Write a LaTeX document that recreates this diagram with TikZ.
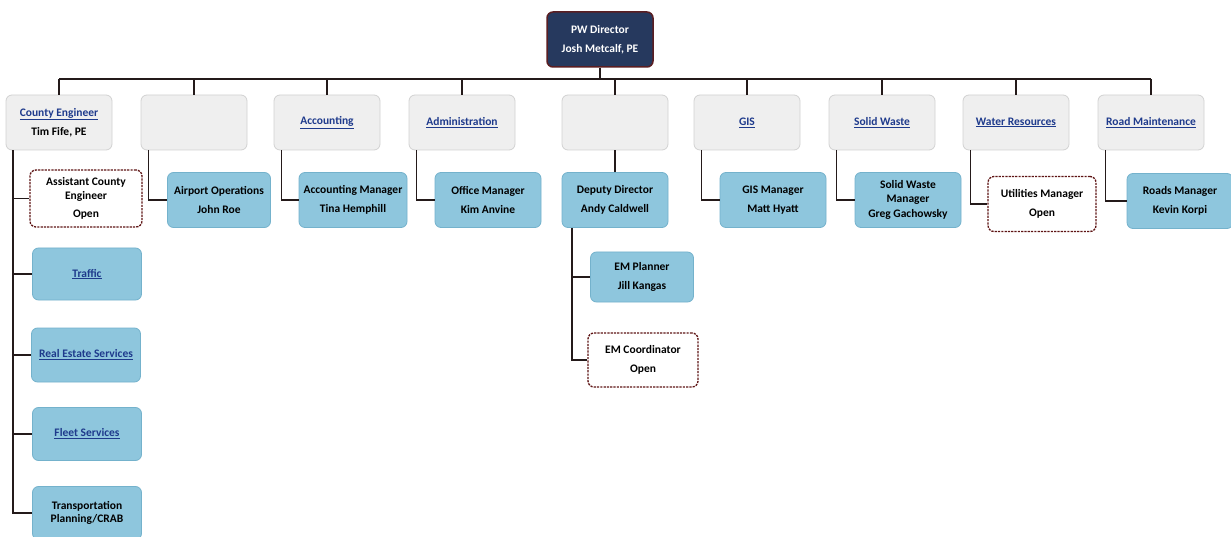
\documentclass[tikz,border=0pt]{standalone}
\usepackage{fontspec}
\setmainfont{Carlito}
\definecolor{navy}{HTML}{26395E}
\definecolor{dirborder}{HTML}{5A1E22}
\definecolor{hdgray}{HTML}{EFEFEF}
\definecolor{hdborder}{HTML}{D2D2D2}
\definecolor{boxblue}{HTML}{8EC6DD}
\definecolor{boxblueb}{HTML}{74B2CC}
\definecolor{openred}{HTML}{5E1414}
\definecolor{linecol}{HTML}{241A1A}
\definecolor{linkblue}{HTML}{1E3A8C}
\newcommand\lnk[1]{\textcolor{linkblue}{\underline{#1}}}
\begin{document}
\begin{tikzpicture}[x=1pt,y=-1pt,
  base/.style={rounded corners=6pt, align=center,
    font=\bfseries\fontsize{11.5}{13.5}\selectfont, inner sep=1pt,
    minimum width=106pt, minimum height=55pt},
  dirbox/.style={base, fill=navy, draw=dirborder, line width=1.5pt, text=white},
  hdbox/.style={base, fill=hdgray, draw=hdborder, line width=0.8pt},
  bluebox/.style={base, fill=boxblue, draw=boxblueb, line width=0.8pt},
  openbox/.style={base, fill=white, draw=openred, line width=1.3pt,
    dash pattern=on 2.2pt off 1.1pt},
  conn/.style={line width=1.6pt, draw=linecol}]
\useasboundingbox (0,0) rectangle (1231,537);
\fill[white] (0,0) rectangle (1231,537);

% director
\node[dirbox] (dir) at (600,39.5) {PW Director\\[6pt]Josh Metcalf, PE};

% top row
\node[hdbox] (ce)  at (59,122.5)  {\lnk{County Engineer}\\[6pt]Tim Fife, PE};
\node[hdbox] (ap)  at (194,122.5) {};
\node[hdbox] (acc) at (327,122.5) {\lnk{Accounting}};
\node[hdbox] (adm) at (462,122.5) {\lnk{Administration}};
\node[hdbox] (em)  at (615,122.5) {};
\node[hdbox] (gis) at (747,122.5) {\lnk{GIS}};
\node[hdbox] (sw)  at (882,122.5) {\lnk{Solid Waste}};
\node[hdbox] (wr)  at (1016,122.5) {\lnk{Water Resources}};
\node[hdbox] (rm)  at (1151,122.5) {\lnk{Road Maintenance}};

% bus
\coordinate (bus) at (0,79);
\draw[conn] (dir.south) -- (dir.south |- bus);
\draw[conn] (ce.north |- bus) -- (rm.north |- bus);
\foreach \n in {ce,ap,acc,adm,em,gis,sw,wr,rm}
  \draw[conn] (\n.north |- bus) -- (\n.north);

% second row
\node[openbox, minimum width=112pt, minimum height=57pt] (ace) at (86,198.5)
  {Assistant County\\Engineer\\[5pt]Open};
\node[bluebox, minimum width=103pt] (apo) at (219,200) {Airport Operations\\[6pt]John Roe};
\node[bluebox, minimum width=108pt] (accm) at (353,200) {Accounting Manager\\[6pt]Tina Hemphill};
\node[bluebox] (om) at (488,200) {Office Manager\\[6pt]Kim Anvine};
\node[bluebox] (dd) at (615,200) {Deputy Director\\[6pt]Andy Caldwell};
\node[bluebox] (gism) at (773,200) {GIS Manager\\[6pt]Matt Hyatt};
\node[bluebox] (swm) at (908,200) {Solid Waste\\Manager\\[2pt]Greg Gachowsky};
\node[openbox, minimum width=108pt] (um) at (1042,204) {Utilities Manager\\[6pt]Open};
\node[bluebox] (rmg) at (1180,201) {Roads Manager\\[6pt]Kevin Korpi};

\draw[conn] ([xshift=8pt]ap.south west) |- (apo.west);
\draw[conn] ([xshift=8pt]acc.south west) |- (accm.west);
\draw[conn] ([xshift=8pt]adm.south west) |- (om.west);
\draw[conn] (em.south) -- (dd.north);
\draw[conn] ([xshift=8pt]gis.south west) |- (gism.west);
\draw[conn] ([xshift=8pt]sw.south west) |- (swm.west);
\draw[conn] ([xshift=8pt]wr.south west) |- (um.west);
\draw[conn] ([xshift=8pt]rm.south west) |- (rmg.west);

% county engineer column
\node[bluebox, minimum width=109pt, minimum height=52pt] (tr) at (87,274) {\lnk{Traffic}};
\node[bluebox, minimum width=109pt, minimum height=54pt] (re) at (86,355) {\lnk{Real Estate Services}};
\node[bluebox, minimum width=109pt, minimum height=53pt] (fs) at (87,434) {\lnk{Fleet Services}};
\node[bluebox, minimum width=109pt, minimum height=53pt] (tp) at (87,513) {Transportation\\Planning/CRAB};
\coordinate (ceL) at ([xshift=-46pt]ce.south);
\draw[conn] (ceL) |- (tp.west);
\foreach \n in {ace,tr,re,fs}
  \draw[conn] (ceL |- \n.west) -- (\n.west);

% deputy director children
\node[bluebox, minimum width=103pt, minimum height=50pt] (emp) at (642,277) {EM Planner\\[6pt]Jill Kangas};
\node[openbox, minimum width=110pt, minimum height=54pt] (emc) at (643,360) {EM Coordinator\\[6pt]Open};
\coordinate (ddL) at ([xshift=-43pt]dd.south);
\draw[conn] (ddL) |- (emc.west);
\draw[conn] (ddL |- emp.west) -- (emp.west);
\end{tikzpicture}
\end{document}
